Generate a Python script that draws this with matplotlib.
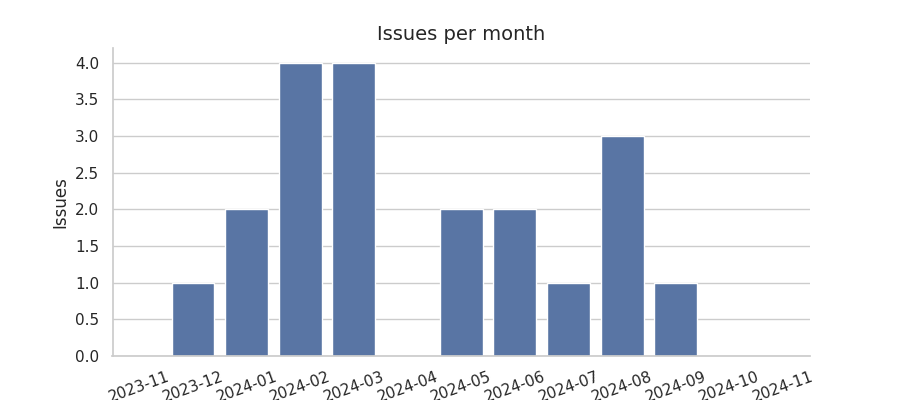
import matplotlib
matplotlib.use('Agg')
import matplotlib.pyplot as plt
import seaborn as sns

months = ['2023-11', '2023-12', '2024-01', '2024-02', '2024-03', '2024-04',
          '2024-05', '2024-06', '2024-07', '2024-08', '2024-09', '2024-10',
          '2024-11']
issues = [0, 1, 2, 4, 4, 0, 2, 2, 1, 3, 1, 0, 0]

sns.set_theme(style='whitegrid')

fig, ax = plt.subplots(figsize=(9, 4), dpi=100)
sns.barplot(x=months, y=issues, color='#4C72B0', ax=ax)
ax.set_title('Issues per month', fontsize=14)
ax.set_ylabel('Issues')
ax.set_xlabel('')
ax.xaxis.grid(False)
plt.setp(ax.get_xticklabels(), rotation=20)
sns.despine(ax=ax)

fig.savefig('out.png')
